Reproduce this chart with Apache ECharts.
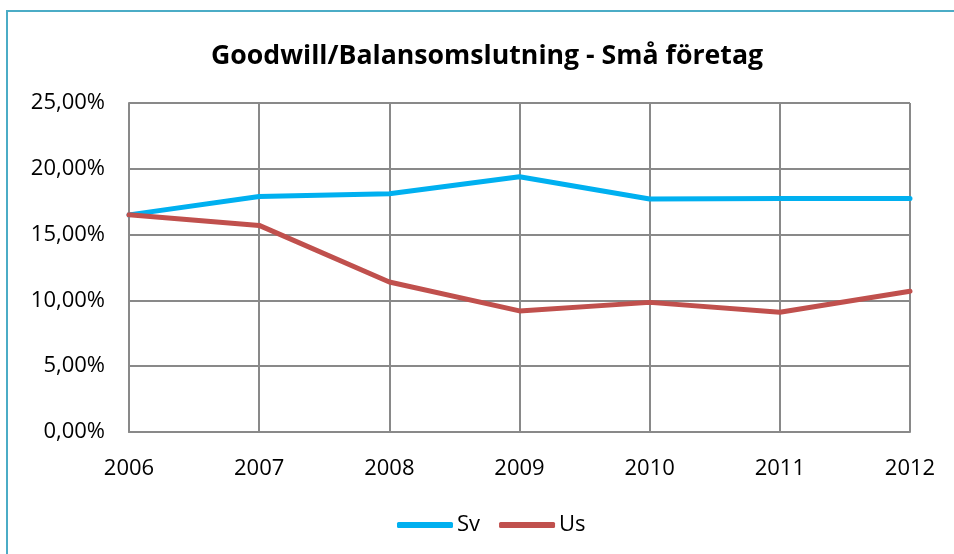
<!DOCTYPE html>
<html>
<head>
<meta charset="utf-8">
<script src="https://cdn.jsdelivr.net/npm/echarts@6/dist/echarts.min.js"></script>
<style>
  html, body { margin: 0; padding: 0; background: #fff; }
  #chart { width: 954px; height: 554px; }
</style>
</head>
<body>
<div id="chart"></div>
<script>
var years = ['2006', '2007', '2008', '2009', '2010', '2011', '2012']
var sv = [16.5, 17.9, 18.1, 19.4, 17.7, 17.75, 17.75]
var us = [16.5, 15.7, 11.4, 9.2, 9.85, 9.1, 10.7]

var font = '"Open Sans", Lato, sans-serif'
var gridGrey = '#898989'

var chart = echarts.init(document.getElementById('chart'))
chart.setOption({
  backgroundColor: '#fff',
  animation: false,
  textStyle: { fontFamily: font },
  title: {
    text: 'Goodwill/Balansomslutning - Små företag',
    left: 482,
    textAlign: 'center',
    top: 38,
    textStyle: { fontFamily: font, fontWeight: 'bold', fontSize: 26.7, color: '#000' }
  },
  graphic: [
    {
      type: 'rect',
      shape: { x: 7, y: 11, width: 960, height: 560 },
      style: { fill: 'none', stroke: '#4bacc6', lineWidth: 2 },
      silent: true
    }
  ],
  legend: {
    data: [
      { name: 'Sv', icon: 'roundRect' },
      { name: 'Us', icon: 'roundRect' }
    ],
    bottom: 13,
    left: 392,
    itemWidth: 56,
    itemHeight: 6,
    itemGap: 19,
    textStyle: { fontFamily: font, fontSize: 22, color: '#000', padding: [0, 0, 0, -1] }
  },
  grid: { left: 129, right: 44, top: 103, bottom: 122 },
  xAxis: {
    type: 'category',
    data: years,
    boundaryGap: false,
    axisLine: { lineStyle: { color: gridGrey, width: 2 } },
    axisTick: { show: false },
    axisLabel: { color: '#000', fontSize: 22, margin: 26, fontFamily: font },
    splitLine: { show: true, lineStyle: { color: gridGrey, width: 2 } }
  },
  yAxis: {
    type: 'value',
    min: 0,
    max: 25,
    interval: 5,
    axisLine: { show: true, lineStyle: { color: gridGrey, width: 2 } },
    axisTick: { show: false },
    axisLabel: {
      color: '#000',
      fontSize: 22,
      margin: 24,
      fontFamily: font,
      formatter: function (v) { return v.toFixed(2).replace('.', ',') + '%' }
    },
    splitLine: { lineStyle: { color: gridGrey, width: 2 } }
  },
  series: [
    {
      name: 'Sv',
      type: 'line',
      data: sv,
      showSymbol: false,
      symbol: 'none',
      color: '#00b0f0',
      lineStyle: { width: 5, color: '#00b0f0', cap: 'round' }
    },
    {
      name: 'Us',
      type: 'line',
      data: us,
      showSymbol: false,
      symbol: 'none',
      color: '#c0504d',
      lineStyle: { width: 5, color: '#c0504d', cap: 'round' }
    }
  ]
})
</script>
</body>
</html>
